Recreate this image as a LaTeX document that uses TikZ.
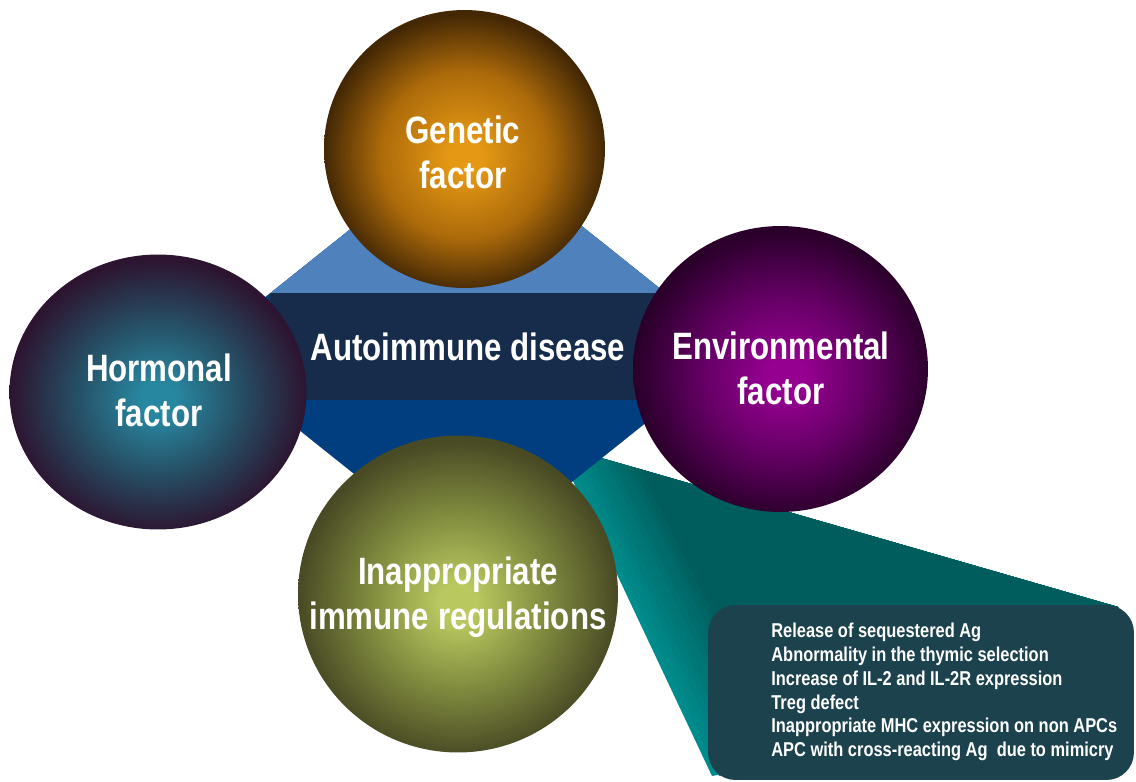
\documentclass[tikz,border=0pt]{standalone}
\usepackage{fontspec}
\usetikzlibrary{shapes.geometric}
\newfontfamily\nb{Liberation Sans}[FakeStretch=0.82]
\definecolor{lightblue}{RGB}{79,129,189}
\definecolor{darkblue}{RGB}{0,62,128}
\definecolor{navy}{RGB}{22,44,74}
\definecolor{tealL}{RGB}{0,140,140}
\definecolor{tealD}{RGB}{0,93,93}
\definecolor{boxc}{RGB}{28,66,78}
\definecolor{gen1}{RGB}{228,152,20}
\definecolor{genm}{RGB}{172,106,10}
\definecolor{gen2}{RGB}{68,40,5}
\definecolor{hor1}{RGB}{40,135,160}
\definecolor{horm}{RGB}{38,78,100}
\definecolor{hor2}{RGB}{45,20,48}
\definecolor{env1}{RGB}{150,0,145}
\definecolor{envm}{RGB}{100,0,100}
\definecolor{env2}{RGB}{42,0,42}
\definecolor{inap1}{RGB}{185,200,95}
\definecolor{inapm}{RGB}{128,138,62}
\definecolor{inap2}{RGB}{72,74,36}
\pgfdeclareradialshading{genball}{\pgfpoint{0bp}{-1.5bp}}{color(0bp)=(gen1); color(3bp)=(gen1); color(15bp)=(genm); color(25bp)=(gen2); color(50bp)=(gen2)}
\pgfdeclareradialshading{horball}{\pgfpoint{0bp}{-1.5bp}}{color(0bp)=(hor1); color(3bp)=(hor1); color(14bp)=(horm); color(25bp)=(hor2); color(50bp)=(hor2)}
\pgfdeclareradialshading{envball}{\pgfpoint{1bp}{-1.5bp}}{color(0bp)=(env1); color(3bp)=(env1); color(14bp)=(envm); color(25bp)=(env2); color(50bp)=(env2)}
\pgfdeclareradialshading{inapball}{\pgfpoint{0bp}{-1.5bp}}{color(0bp)=(inap1); color(3bp)=(inap1); color(14bp)=(inapm); color(25bp)=(inap2); color(50bp)=(inap2)}
\tikzset{
  ball/.style={ellipse, inner sep=0pt, shade},
  lbl/.style={inner sep=0pt, text=white, align=center,
    font=\nb\bfseries\fontsize{21.7}{25.5}\selectfont},
  bandbox/.style={rectangle, inner sep=0pt, fill=navy, text=white,
    font=\nb\bfseries\fontsize{21.7}{25.5}\selectfont},
  listbox/.style={rectangle, rounded corners=0.55cm, fill=boxc, inner sep=0pt},
  listtext/.style={text=white, align=left, inner sep=0pt,
    font=\nb\bfseries\fontsize{11.4}{13.6}\selectfont}
}
\begin{document}
\begin{tikzpicture}[x=0.02cm,y=-0.02cm]
\path[use as bounding box] (0,0) rectangle (1136,781);
% callout wedge, lighter along its left edge
\foreach \i in {0,...,12}{
  \pgfmathsetmacro{\d}{7*\i}
  \pgfmathsetmacro{\p}{100-\i*100/12}
  \fill[tealL!\p!tealD] ({556+\d},{445+0.288*\d}) -- (1118,607) -- (1118,700) -- ({712+\d},776) -- cycle;
}
\node[listbox, minimum width=8.52cm, minimum height=3.5cm] (box) at (921,692.5) {};
% diamond
\fill[darkblue] (468,135) -- (737,350) -- (468,565) -- (199,350) -- cycle;
\fill[lightblue] (468,135) -- (665.5,293) -- (270.5,293) -- cycle;
\node[bandbox, minimum width=7.92cm, minimum height=2.14cm] (band) at (468,346.5) {Autoimmune disease};
% balls
\node[ball, shading=genball, minimum width=5.62cm, minimum height=5.56cm] (gen) at (464.5,149) {};
\node[ball, shading=horball, minimum width=5.94cm, minimum height=5.5cm] (hor) at (158,392) {};
\node[ball, shading=envball, minimum width=5.9cm, minimum height=5.72cm] (env) at (780.5,369) {};
\node[ball, shading=inapball, minimum width=6.4cm, minimum height=6.34cm] (inap) at (458,594) {};
\node[lbl] (genT) at (463,152) {Genetic\\factor};
\node[lbl] (horT) at (159,390) {Hormonal\\factor};
\node[lbl] (envT) at (781,368) {Environmental\\factor};
\node[lbl] (inapT) at (458,597) {Inappropriate\\immune regulations};
% list text
\node[listtext, anchor=west] (list) at (771,692) {Release of sequestered Ag\\
Abnormality in the thymic selection\\
Increase of IL-2 and IL-2R expression\\
Treg defect\\
Inappropriate MHC expression on non APCs\\
APC with cross-reacting Ag\ \ due to mimicry};
\end{tikzpicture}
\end{document}
